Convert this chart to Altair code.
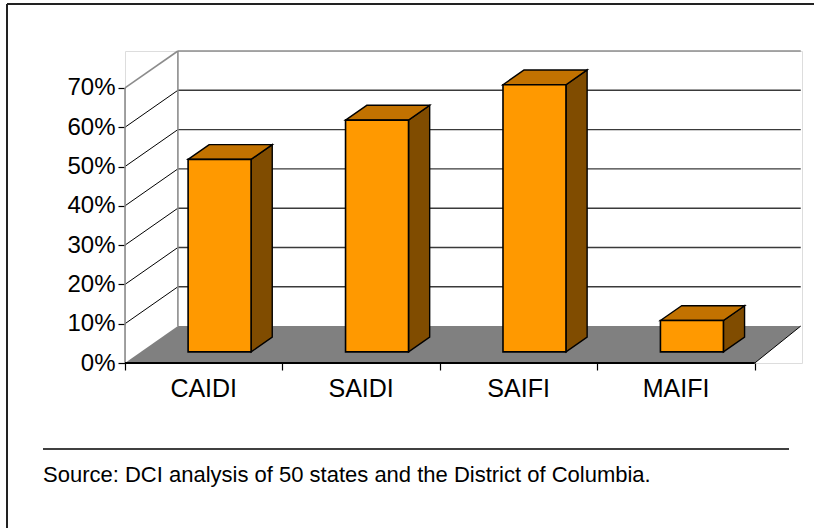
import altair as alt
import pandas as pd

# ---- data -------------------------------------------------------------
categories = ["CAIDI", "SAIDI", "SAIFI", "MAIFI"]
shares = [49, 59, 68, 8]                      # % of jurisdictions
tick_values = [0, 10, 20, 30, 40, 50, 60, 70]
source_note = "Source: DCI analysis of 50 states and the District of Columbia."

# ---- pseudo-3D projection (in data units) -------------------------------
DEPTH_X = 0.336      # back plane shift, category units
DEPTH_Y = 9.4        # back plane shift, percentage points
BACK_RIGHT = 4.292   # right end of the back wall / floor
N_CAT = len(categories)
BAR_W = 0.4
BAR_FRONT, BAR_BACK = 0.3, 0.7
Y_TOP = max(tick_values)

W, H = 677, 312
X_MAX = 4.3
FONT = "Liberation Sans"

x_scale = alt.Scale(domain=[0, X_MAX], nice=False, zero=False)
y_scale = alt.Scale(domain=[0, Y_TOP + DEPTH_Y], nice=False, zero=False)
x_axis = alt.Axis(values=list(range(N_CAT + 1)), labels=False, domain=False,
                  grid=False, ticks=True, tickSize=7, tickColor="black",
                  tickWidth=1.2, title=None)
y_axis = alt.Axis(values=tick_values, labelExpr="datum.value + '%'",
                  domain=False, grid=False, ticks=True, tickSize=7,
                  tickColor="black", tickWidth=1.2, labelFontSize=24,
                  labelFont=FONT, labelColor="black", labelPadding=3,
                  title=None)


def X(field):
    return alt.X(field, type="quantitative", scale=x_scale, axis=x_axis)


def Y(field):
    return alt.Y(field, type="quantitative", scale=y_scale, axis=y_axis)


# ---- walls and floor ----------------------------------------------------
back_grid = pd.DataFrame({
    "x": DEPTH_X, "x2": BACK_RIGHT,
    "y": [t + DEPTH_Y for t in tick_values[1:-1]],
})
back_top = pd.DataFrame({"x": [DEPTH_X], "x2": [BACK_RIGHT],
                         "y": [Y_TOP + DEPTH_Y]})
side_grid = pd.DataFrame({
    "x": 0.0, "x2": DEPTH_X,
    "y": tick_values[1:-1],
    "y2": [t + DEPTH_Y for t in tick_values[1:-1]],
})
wall_edges = pd.DataFrame({
    "x":  [0.0, 0.0, DEPTH_X],
    "x2": [0.0, DEPTH_X, DEPTH_X],
    "y":  [0.0, Y_TOP, DEPTH_Y],
    "y2": [Y_TOP, Y_TOP + DEPTH_Y, Y_TOP + DEPTH_Y],
})
floor = pd.DataFrame({
    "y": [0.0, DEPTH_Y],
    "x": [0.0, DEPTH_X],
    "x2": [float(N_CAT), BACK_RIGHT],
})
floor_right = pd.DataFrame({"x": [float(N_CAT)], "x2": [BACK_RIGHT],
                            "y": [0.0], "y2": [DEPTH_Y]})
floor_front = pd.DataFrame({"x": [0.0], "x2": [float(N_CAT)], "y": [0.0]})

# ---- bars ---------------------------------------------------------------
dxb = (BAR_BACK - BAR_FRONT) * DEPTH_X
dyb = (BAR_BACK - BAR_FRONT) * DEPTH_Y
front_rows, side_rows, top_rows = [], [], []
for i, (cat, v) in enumerate(zip(categories, shares)):
    x0 = i + 0.5 - BAR_W / 2 + BAR_FRONT * DEPTH_X
    x1 = x0 + BAR_W
    base = BAR_FRONT * DEPTH_Y
    top = v + base
    front_rows.append({"cat": cat, "x": x0, "x2": x1, "y": base, "y2": top})
    side_rows += [
        {"cat": cat, "x": x1, "y": base, "y2": top},
        {"cat": cat, "x": x1 + dxb, "y": base + dyb, "y2": top + dyb},
    ]
    top_rows += [
        {"cat": cat, "y": top, "x": x0, "x2": x1},
        {"cat": cat, "y": top + dyb, "x": x0 + dxb, "x2": x1 + dxb},
    ]
bar_front = pd.DataFrame(front_rows)
bar_side = pd.DataFrame(side_rows)
bar_top = pd.DataFrame(top_rows)
cat_labels = pd.DataFrame({"cat": categories,
                           "x": [i + 0.5 for i in range(N_CAT)]})

# ---- layers ---------------------------------------------------------------
grid_lines = alt.Chart(back_grid).mark_rule(color="#3a3a3a", strokeWidth=1.4).encode(
    x=X("x"), x2="x2", y=Y("y"))
top_line = alt.Chart(back_top).mark_rule(color="#8c8c8c", strokeWidth=1.6).encode(
    x=X("x"), x2="x2", y=Y("y"))
side_lines = alt.Chart(side_grid).mark_rule(color="black", strokeWidth=1).encode(
    x=X("x"), x2="x2", y=Y("y"), y2="y2")
edges = alt.Chart(wall_edges).mark_rule(color="#8c8c8c", strokeWidth=1.6).encode(
    x=X("x"), x2="x2", y=Y("y"), y2="y2")
floor_fill = alt.Chart(floor).mark_area(orient="horizontal", color="#808080").encode(
    y=Y("y"), x=X("x"), x2="x2")
floor_edge_r = alt.Chart(floor_right).mark_rule(color="black", strokeWidth=1).encode(
    x=X("x"), x2="x2", y=Y("y"), y2="y2")
floor_edge_f = alt.Chart(floor_front).mark_rule(color="black", strokeWidth=2).encode(
    x=X("x"), x2="x2", y=Y("y"))

side_faces = alt.Chart(bar_side).mark_area(
    color="#804C00", stroke="black", strokeWidth=1.4, strokeJoin="miter"
).encode(x=X("x"), y=Y("y"), y2="y2", detail="cat:N")
top_faces = alt.Chart(bar_top).mark_area(
    orient="horizontal", color="#C27200", stroke="black", strokeWidth=1.4,
    strokeJoin="miter"
).encode(y=Y("y"), x=X("x"), x2="x2", detail="cat:N")
front_faces = alt.Chart(bar_front).mark_rect(
    color="#FF9900", stroke="black", strokeWidth=1.6
).encode(x=X("x"), x2="x2", y=Y("y"), y2="y2")

labels = alt.Chart(cat_labels).mark_text(
    font=FONT, fontSize=25, color="black", baseline="middle", align="center"
).encode(x=X("x"), y=alt.value(H + 26), text="cat:N")

# frame, separator and source line below the plot
frame_top = alt.Chart(pd.DataFrame({"k": [0]})).mark_rule(
    color="#222222", strokeWidth=2).encode(
    x=alt.value(-118), x2=alt.value(W + 20), y=alt.value(-47))
frame_left = alt.Chart(pd.DataFrame({"k": [0]})).mark_rule(
    color="#222222", strokeWidth=2).encode(
    x=alt.value(-118), y=alt.value(-47), y2=alt.value(H + 170))
separator = alt.Chart(pd.DataFrame({"k": [0]})).mark_rule(
    color="black", strokeWidth=1.5).encode(
    x=alt.value(-82), x2=alt.value(664), y=alt.value(H + 86))
source = alt.Chart(pd.DataFrame({"t": [source_note]})).mark_text(
    font=FONT, fontSize=22, color="black", align="left", baseline="middle"
).encode(x=alt.value(-82), y=alt.value(H + 112), text="t:N")

chart = alt.layer(
    grid_lines, top_line, side_lines, edges, floor_fill, floor_edge_r,
    floor_edge_f, side_faces, top_faces, front_faces, labels,
    frame_top, frame_left, separator, source,
).properties(
    width=W, height=H,
    autosize=alt.AutoSizeParams(type="none"),
    padding={"left": 125, "top": 51, "right": 814 - 125 - W, "bottom": 528 - 51 - H},
).configure_view(stroke=None).configure(background="white")

chart.save("out.html", embed_options={"renderer": "svg", "actions": False})
